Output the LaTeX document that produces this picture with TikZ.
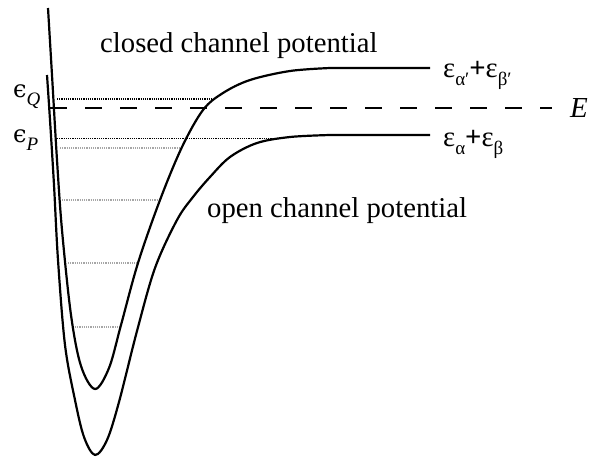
\documentclass[tikz,border=0pt]{standalone}
\usepackage{fontspec}
\setmainfont{Liberation Serif}
\newfontfamily\lunatefont{DejaVu Serif}
\usetikzlibrary{positioning}
\definecolor{ink}{HTML}{000000}
\definecolor{faint}{HTML}{A6A6A6}
\newcommand{\sublbl}[1]{\raisebox{-0.28em}{\fontsize{19}{19}\selectfont #1}}
\tikzset{
  pot/.style={draw=ink,line width=2.2pt,line join=round},
  thresh/.style={draw=ink,line width=1.7pt,dash pattern=on 17pt off 18pt},
  resonance/.style={draw=ink,line width=1.1pt,dash pattern=on 1.1pt off 1.1pt},
  bound/.style={draw=faint,line width=1.1pt,dash pattern=on 1.1pt off 1.1pt},
  lbl/.style={anchor=base west,inner sep=0pt,font=\fontsize{28.7}{32}\selectfont},
  every node/.style={inner sep=0pt}
}
\begin{document}
\begin{tikzpicture}[x=1pt,y=-1pt]
\useasboundingbox (0,0) rectangle (589,458);

% bound levels of the closed channel
\draw[bound] (60,148) -- (179,148);
\draw[bound] (62,200) -- (159,200);
\draw[bound] (68,263) -- (139,263);
\draw[bound] (75,327) -- (121,327);
\draw[resonance] (57,99) -- (213,99);
\draw[resonance] (57,138.5) -- (279,138.5);

% threshold
\coordinate (ethr) at (50,108);
\node[lbl,font=\fontsize{29}{32}\selectfont\itshape] (Elbl) at (570,117) {E};
\draw[thresh] (ethr) -- (552,108);

% closed channel
\draw[pot] plot[smooth,tension=0.55] coordinates {(48,8) (52,75) (57,160) (62,230) (71,315) (81,366) (95,389) (109,368) (121,325) (138,263) (160,200) (182,147) (203,110) (223,93) (250,80) (290,71) (330,68)} -- (430,68);
% open channel
\draw[pot] plot[smooth,tension=0.55] coordinates {(47,75) (50,120) (54,185) (58,260) (65,345) (75,400) (84,437) (95,455) (107,440) (119,402) (137,331) (155,268) (177,220) (193,197) (210,177) (230,157) (257,143) (290,137) (330,135)} -- (430,135);

\node[lbl] (closedlbl) at (100,52) {closed channel potential};
\node[lbl] (openlbl) at (207,217) {open channel potential};
\node[lbl] (clsum) at (443,77) {ε\sublbl{α′}\textbf{+}ε\sublbl{β′}};
\node[lbl] (opsum) at (443,146) {ε\sublbl{α}\textbf{+}ε\sublbl{β}};
\node[lbl] (Qlbl) at (13,97) {{\lunatefont\fontsize{24}{28}\selectfont ϵ}\sublbl{\itshape Q}};
\node[lbl] (Plbl) at (13,142) {{\lunatefont\fontsize{24}{28}\selectfont ϵ}\sublbl{\itshape P}};
\end{tikzpicture}
\end{document}
